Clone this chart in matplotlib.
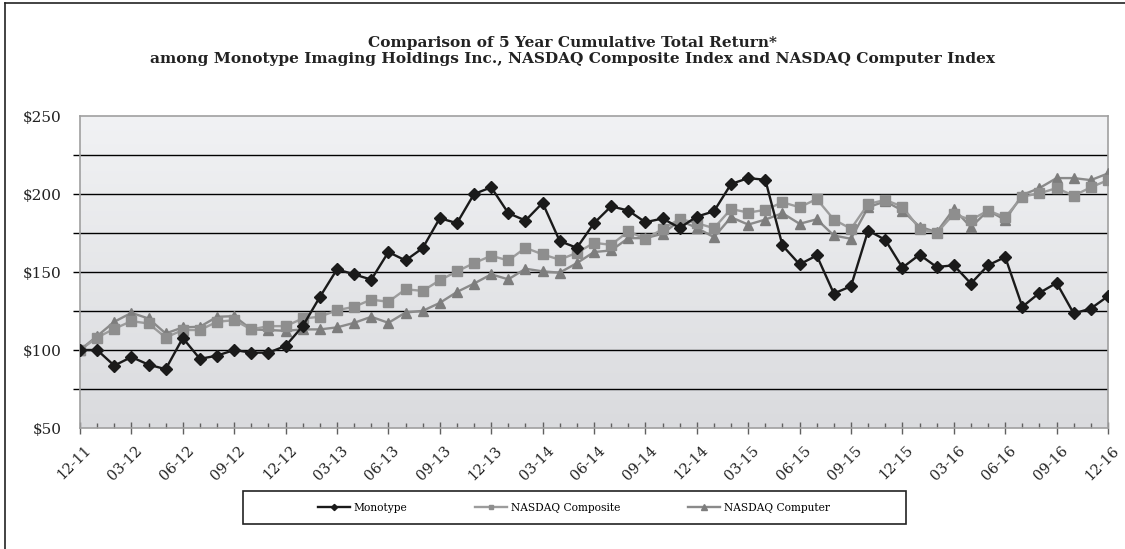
import matplotlib
matplotlib.use("Agg")
import matplotlib.pyplot as plt
import numpy as np
from matplotlib.colors import LinearSegmentedColormap
from matplotlib.ticker import FixedLocator
from matplotlib.lines import Line2D
from matplotlib.patches import Rectangle

months = ["12-11", "01-12", "02-12", "03-12", "04-12", "05-12", "06-12", "07-12", "08-12", "09-12",
          "10-12", "11-12", "12-12", "01-13", "02-13", "03-13", "04-13", "05-13", "06-13", "07-13",
          "08-13", "09-13", "10-13", "11-13", "12-13", "01-14", "02-14", "03-14", "04-14", "05-14",
          "06-14", "07-14", "08-14", "09-14", "10-14", "11-14", "12-14", "01-15", "02-15", "03-15",
          "04-15", "05-15", "06-15", "07-15", "08-15", "09-15", "10-15", "11-15", "12-15", "01-16",
          "02-16", "03-16", "04-16", "05-16", "06-16", "07-16", "08-16", "09-16", "10-16", "11-16",
          "12-16"]

monotype = [100, 100, 90, 95.5, 90.6, 87.7, 107.7, 94.3, 96.4, 100,
            98.3, 98.3, 102.6, 115.3, 134, 151.7, 148.5, 145.1, 162.8, 157.4,
            165.3, 184.5, 181.3, 200, 204.3, 187.7, 183, 194.3, 169.8, 165.5,
            181.3, 192.1, 189.4, 181.9, 184.3, 178.3, 185.5, 188.9, 206.4, 210.2,
            209.1, 167, 154.9, 160.6, 136.2, 140.9, 176.6, 170.6, 152.8, 161.1,
            153.2, 154.3, 142.6, 154.3, 159.6, 127.7, 136.6, 143, 123.4, 126.6,
            134.5]

nasdaq_composite = [100, 108, 113.6, 118.5, 117, 108, 112.8, 112.8, 118.1, 119.1,
                    113.2, 115.3, 115.3, 120.2, 121.3, 125.5, 127.7, 132.3, 130.9, 138.9,
                    137.9, 144.7, 150.4, 155.7, 160.4, 157.4, 165.5, 161.3, 157.9, 162.3,
                    168.7, 167.4, 176, 171.3, 177.4, 184, 181.3, 178.1, 190.4, 188.1,
                    189.8, 194.7, 191.5, 196.8, 183.6, 177.7, 193.6, 196.2, 191.9, 177.7,
                    174.9, 187.2, 183.4, 189.4, 185.1, 198.3, 200.4, 203.8, 198.9, 204.3,
                    208.9]

nasdaq_computer = [100, 108.9, 118.1, 123.8, 120.2, 110.6, 114.5, 114.9, 121.3, 121.7,
                   113.2, 112.8, 112.3, 113.2, 113.2, 114.5, 117.4, 121.3, 117.4, 124,
                   125.1, 130.2, 137.2, 142.6, 148.5, 145.3, 152.1, 150.4, 149.6, 155.7,
                   162.8, 163.8, 171.7, 171.7, 174.5, 183, 178.3, 172.3, 185.1, 180.4,
                   183.6, 187.7, 180.9, 183.8, 173.4, 171.3, 191.5, 195.3, 189.4, 179.1,
                   175.5, 190.4, 178.7, 189.4, 183.4, 199.4, 203.8, 210.2, 210.2, 208.9,
                   213.2]

series_names = ["Monotype", "NASDAQ Composite", "NASDAQ Computer"]
y_ticks = [50, 100, 150, 200, 250]
grid_levels = [75, 100, 125, 150, 175, 200, 225]

title = ("Comparison of 5 Year Cumulative Total Return*\n"
         "among Monotype Imaging Holdings Inc., NASDAQ Composite Index and NASDAQ Computer Index")

plt.rcParams['font.family'] = ['DejaVu Serif']

W, H = 1125, 549
fig = plt.figure(figsize=(W / 100, H / 100), dpi=100)

# outer border
fig.add_artist(Line2D([5 / W, 5 / W], [0, 1 - 3 / H], color="#222222", lw=1.2, transform=fig.transFigure))
fig.add_artist(Line2D([5 / W, 1], [1 - 3 / H, 1 - 3 / H], color="#222222", lw=1.2, transform=fig.transFigure))

left, right, top, bottom = 80, 1108, 116, 428
ax = fig.add_axes([left / W, 1 - bottom / H, (right - left) / W, (bottom - top) / H])

x = np.arange(len(months))

# gradient background
cmap = LinearSegmentedColormap.from_list("bg", ["#f1f2f4", "#dadbde"])
grad = np.linspace(0, 1, 256).reshape(-1, 1)
ax.imshow(grad, cmap=cmap, aspect="auto", extent=[0, 1, 0, 1], transform=ax.transAxes,
          origin="upper", zorder=0)

ax.set_xlim(0, len(months) - 1)
ax.set_ylim(50, 250)

for v in grid_levels:
    ax.axhline(v, color="#000000", lw=1.0, zorder=1)

ax.plot(x, nasdaq_computer, color="#8a8a8a", lw=1.7, marker="^", ms=7.5,
        mfc="#7d7d7d", mec="#7d7d7d", zorder=3, label=series_names[2])
ax.plot(x, nasdaq_composite, color="#9c9c9c", lw=1.7, marker="s", ms=7,
        mfc="#8e8e8e", mec="#8e8e8e", zorder=4, label=series_names[1])
ax.plot(x, monotype, color="#1a1a1a", lw=1.7, marker="D", ms=6.3,
        mfc="#1a1a1a", mec="#1a1a1a", zorder=5, label=series_names[0])

for s in ax.spines.values():
    s.set_color("#a0a0a0")
    s.set_linewidth(1.2)

ax.yaxis.set_major_locator(FixedLocator(y_ticks))
ax.yaxis.set_minor_locator(FixedLocator([75, 125, 175, 225]))
ax.set_yticklabels(["$%d" % v for v in y_ticks])
ax.tick_params(axis="y", which="major", length=5, pad=8, labelsize=11, labelcolor="#222222",
               color="#000000", width=1.0)
ax.tick_params(axis="y", which="minor", length=5, color="#000000", width=1.0)
yt = ax.yaxis.get_major_ticks()
yt[0].tick1line.set_visible(False)
yt[-1].tick1line.set_visible(False)

ax.xaxis.set_major_locator(FixedLocator(x[::3]))
ax.xaxis.set_minor_locator(FixedLocator(x))
ax.set_xticklabels(months[::3], rotation=45, ha="right", va="top", rotation_mode="anchor")
ax.tick_params(axis="x", which="major", direction="inout", length=8, color="#606060",
               width=1.0, labelsize=10.5, pad=7, labelcolor="#222222")
ax.tick_params(axis="x", which="minor", direction="in", length=3.5, color="#606060", width=1.0)
for lab in ax.get_xticklabels():
    lab.set_transform(lab.get_transform() + matplotlib.transforms.ScaledTranslation(4 / 100, 0, fig.dpi_scale_trans))

fig.text(573 / W, 1 - 51 / H, title, ha="center", va="center", fontsize=11.1,
         fontweight="bold", color="#222222", linespacing=1.2)

# legend box
fig.add_artist(Rectangle((243 / W, 1 - 524 / H), (906 - 243) / W, 33 / H, transform=fig.transFigure,
                         fill=False, edgecolor="#222222", lw=1.2))
handles, labels = ax.get_legend_handles_labels()
order = [2, 1, 0]
leg = fig.legend([handles[i] for i in order], [labels[i] for i in order], loc="center",
                 bbox_to_anchor=(574 / W, 1 - 508 / H), ncol=3, frameon=False,
                 fontsize=7.7, handlelength=3.0, handletextpad=0.4, columnspacing=6.3,
                 markerscale=0.5)

fig.savefig("out.png", dpi=100)
